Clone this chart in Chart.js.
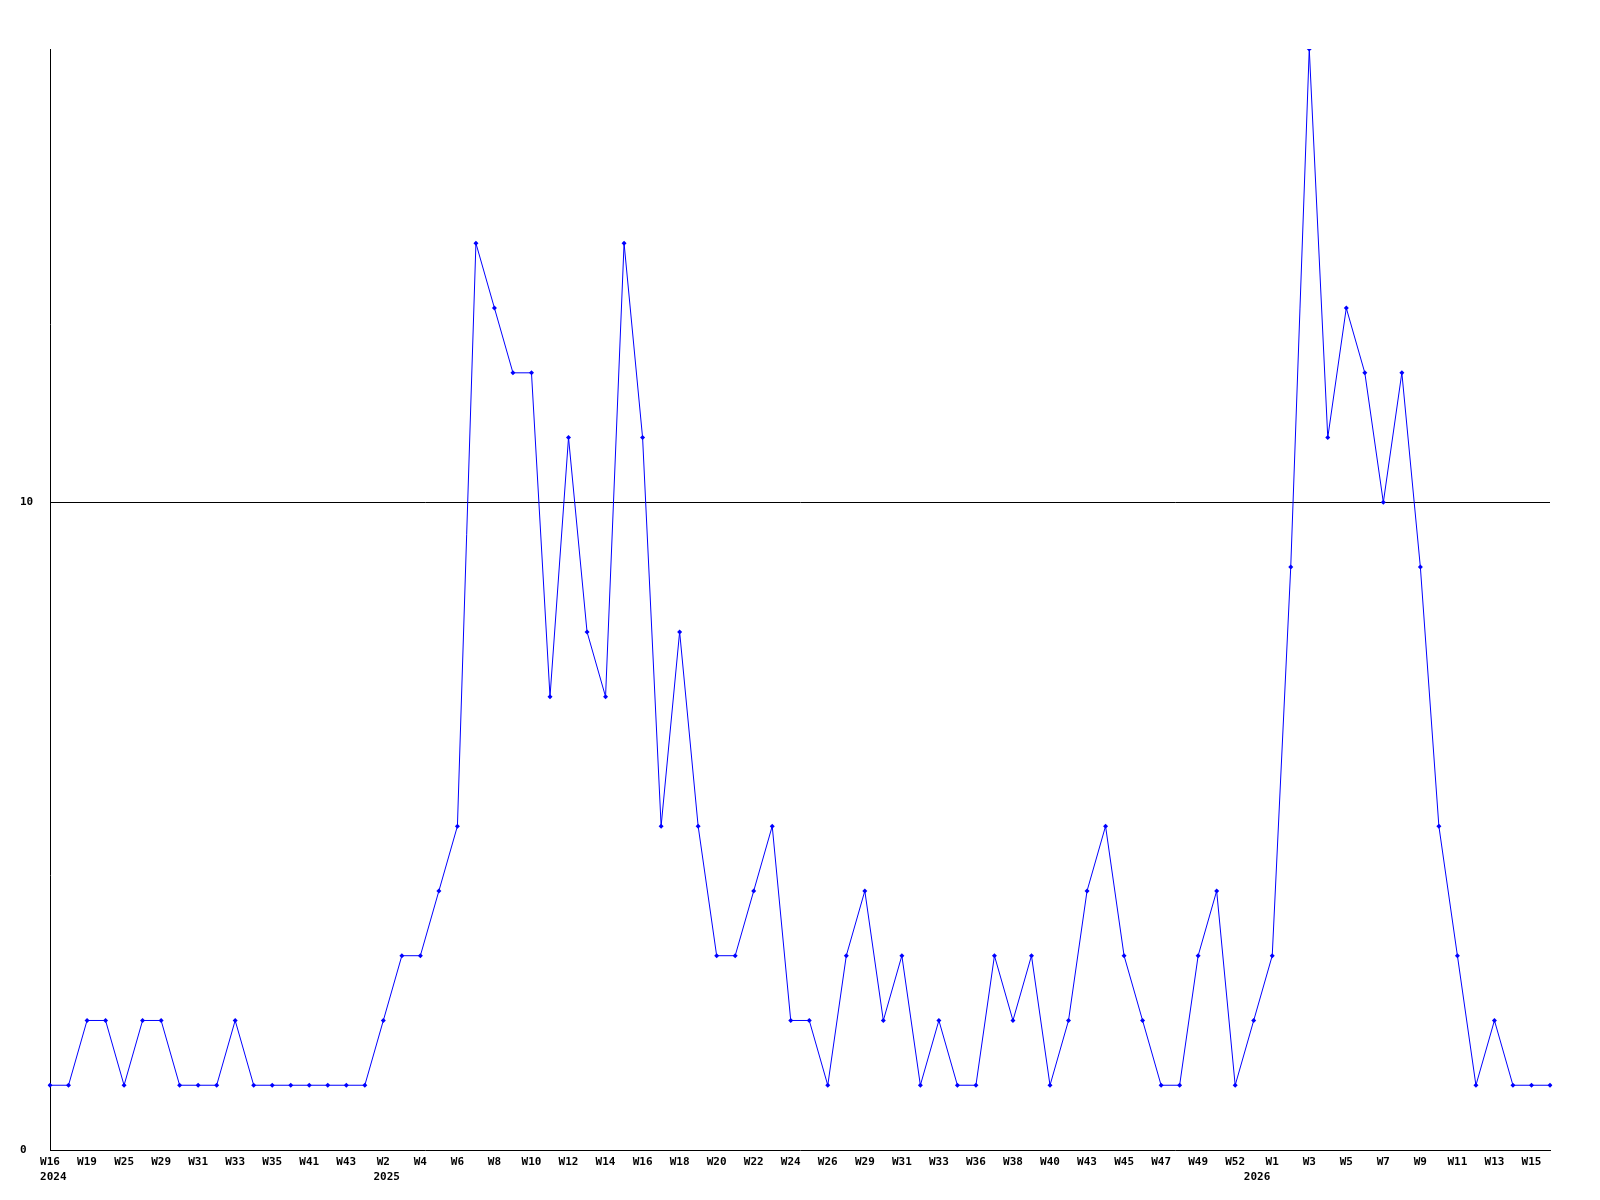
<!DOCTYPE html>
<html>
<head>
<meta charset="utf-8">
<style>
  html, body { margin: 0; padding: 0; background: #ffffff; }
  #wrap { width: 1600px; height: 1200px; position: relative; }
</style>
<script src="https://cdn.jsdelivr.net/npm/chart.js@4.4.1/dist/chart.umd.min.js"></script>
</head>
<body>
<div id="wrap"><canvas id="c" width="1600" height="1200"></canvas></div>
<script>
// Categories: week and year of each data point
const weeks = [
  "W16","W17","W19","W22","W25","W27","W29","W30","W31","W32",
  "W33","W34","W35","W38","W41","W42","W43","W47","W2","W3",
  "W4","W5","W6","W7","W8","W9","W10","W11","W12","W13",
  "W14","W15","W16","W17","W18","W19","W20","W21","W22","W23",
  "W24","W25","W26","W28","W29","W30","W31","W32","W33","W35",
  "W36","W37","W38","W39","W40","W42","W43","W44","W45","W46",
  "W47","W48","W49","W51","W52","W0","W1","W2","W3","W4",
  "W5","W6","W7","W8","W9","W10","W11","W12","W13","W14",
  "W15","W16"
];
const years = [
  2024,2024,2024,2024,2024,2024,2024,2024,2024,2024,
  2024,2024,2024,2024,2024,2024,2024,2024,2025,2025,
  2025,2025,2025,2025,2025,2025,2025,2025,2025,2025,
  2025,2025,2025,2025,2025,2025,2025,2025,2025,2025,
  2025,2025,2025,2025,2025,2025,2025,2025,2025,2025,
  2025,2025,2025,2025,2025,2025,2025,2025,2025,2025,
  2025,2025,2025,2025,2025,2026,2026,2026,2026,2026,
  2026,2026,2026,2026,2026,2026,2026,2026,2026,2026,
  2026,2026
];
// Series values
const counts = [
  1,1,2,2,1,2,2,1,1,1,
  2,1,1,1,1,1,1,1,2,3,
  3,4,5,14,13,12,12,7,11,8,
  7,14,11,5,8,5,3,3,4,5,
  2,2,1,3,4,2,3,1,2,1,
  1,3,2,3,1,2,4,5,3,2,
  1,1,3,4,1,2,3,9,17,11,
  13,12,10,12,9,5,3,1,2,1,
  1,1
];
// Y tick labels
const yTicks = [0, 10];
const yMax = 17;

const labels = weeks.map((w, i) => w + " " + years[i]);

new Chart(document.getElementById('c'), {
  type: 'line',
  data: {
    labels: labels,
    datasets: [{
      data: counts,
      borderColor: '#0000ff',
      backgroundColor: '#0000ff',
      borderWidth: 1,
      tension: 0,
      fill: false,
      pointStyle: 'rectRot',
      pointRadius: 2.5,
      pointBorderWidth: 0,
      pointHoverRadius: 2.5
    }]
  },
  options: {
    responsive: false,
    animation: false,
    devicePixelRatio: 1,
    layout: { padding: { left: 20, right: 50, top: 49, bottom: 0 } },
    plugins: { legend: { display: false }, tooltip: { enabled: false } },
    scales: {
      x: {
        type: 'category',
        offset: false,
        grid: { display: true, color: 'rgba(0,0,0,0)', drawTicks: false },
        border: { display: true, color: '#000000', width: 1 },
        ticks: {
          autoSkip: false,
          maxRotation: 0,
          minRotation: 0,
          padding: 5,
          color: '#000000',
          font: { family: 'DejaVu Sans Mono', size: 11, weight: 'bold', lineHeight: 1.35 },
          callback: function (value, index) {
            const wk = (index % 2 === 0) ? weeks[index] : '';
            const newYear = (index === 0) || (years[index] !== years[index - 1]);
            if (newYear) return [wk, ' ' + String(years[index])];
            return wk;
          }
        },
        afterFit: function (scale) { scale.height = 50; }
      },
      y: {
        min: 0,
        max: yMax,
        grid: {
          display: true,
          drawTicks: false,
          color: function (ctx) { return (ctx.tick && ctx.tick.value === 10) ? '#000000' : 'rgba(0,0,0,0)'; },
          lineWidth: 1
        },
        border: { display: true, color: '#000000', width: 1 },
        afterBuildTicks: function (scale) { scale.ticks = yTicks.map(v => ({ value: v })); },
        ticks: {
          crossAlign: 'far',
          padding: 0,
          color: '#000000',
          font: { family: 'DejaVu Sans Mono', size: 11, weight: 'bold' },
          callback: function (v) { return String(v); }
        },
        afterFit: function (scale) { scale.width = 30; }
      }
    }
  }
});
</script>
</body>
</html>
